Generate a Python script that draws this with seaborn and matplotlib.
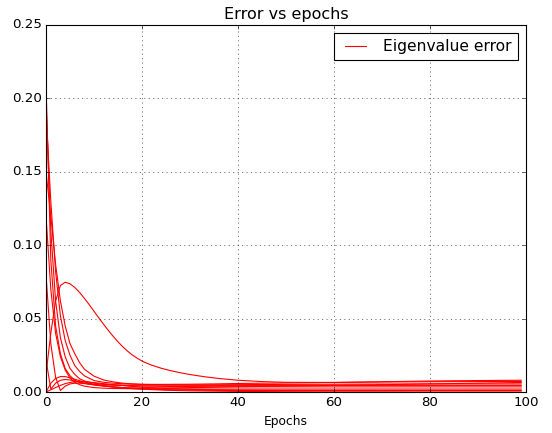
import pandas as pd
import matplotlib
matplotlib.use("Agg")
import matplotlib.pyplot as plt
import seaborn as sns

# ---------------- DATA ----------------
epochs = [0, 1, 2, 3, 4, 5, 6, 7, 8, 10, 12, 14, 16, 18, 20,
          25, 30, 35, 40, 45, 50, 60, 70, 80, 90, 99]

# the slow, humped run is sampled a bit finer
epochs_hump = [0, 1, 2, 3, 4, 5, 6, 7, 8, 9, 10, 11, 12, 13, 14, 15, 16, 17, 18, 19, 20,
               21, 22, 24, 26, 28, 30, 33, 36, 40, 45, 50, 60, 70, 80, 90, 99]
run_hump = [0.012, 0.040, 0.062, 0.0725, 0.0748, 0.0737, 0.0712, 0.0678, 0.0638, 0.0595, 0.0550,
            0.0505, 0.0461, 0.0419, 0.0379, 0.0342, 0.0308, 0.0278, 0.0252, 0.0230, 0.0211,
            0.0196, 0.0183, 0.0162, 0.0145, 0.0131, 0.0119, 0.0104, 0.0092, 0.0080, 0.0071, 0.0066,
            0.0065, 0.007, 0.0075, 0.0078, 0.008]

run_b = [0.21, 0.09, 0.045, 0.026, 0.016, 0.011, 0.008, 0.0065, 0.0058, 0.005, 0.0048, 0.0047, 0.0046,
         0.0046, 0.0046, 0.0047, 0.0048, 0.0049, 0.005, 0.0051, 0.0052, 0.0053, 0.0054, 0.0055, 0.0055, 0.0055]
run_c = [0.20, 0.11, 0.062, 0.037, 0.024, 0.016, 0.012, 0.009, 0.0075, 0.006, 0.0052, 0.0048, 0.0045,
         0.0042, 0.004, 0.0038, 0.0037, 0.0036, 0.0036, 0.0035, 0.0035, 0.0035, 0.0035, 0.0035, 0.0035, 0.0035]
run_d = [0.19, 0.13, 0.082, 0.052, 0.035, 0.025, 0.018, 0.014, 0.011, 0.0078, 0.0066, 0.006, 0.0056,
         0.0054, 0.0052, 0.0052, 0.0053, 0.0055, 0.0058, 0.006, 0.0062, 0.0065, 0.0068, 0.007, 0.0071, 0.0072]
run_e = [0.15, 0.12, 0.087, 0.062, 0.045, 0.033, 0.026, 0.020, 0.0155, 0.0108, 0.0082, 0.0069, 0.006,
         0.0055, 0.0052, 0.0048, 0.0046, 0.0045, 0.0045, 0.0045, 0.0045, 0.0045, 0.0045, 0.0045, 0.0045, 0.0045]
run_f = [0.12, 0.07, 0.04, 0.024, 0.015, 0.0095, 0.0065, 0.005, 0.004, 0.003, 0.0026, 0.0024, 0.0023,
         0.0022, 0.0022, 0.0021, 0.0021, 0.002, 0.002, 0.002, 0.002, 0.002, 0.002, 0.002, 0.002, 0.002]
run_g = [0.08, 0.033, 0.01, 0.001, 0.004, 0.0055, 0.006, 0.006, 0.0058, 0.005, 0.0042, 0.0035, 0.003,
         0.0026, 0.0022, 0.0016, 0.0013, 0.0011, 0.001, 0.001, 0.001, 0.001, 0.001, 0.001, 0.001, 0.001]
run_h = [0.022, 0.002, 0.006, 0.008, 0.0085, 0.0082, 0.0075, 0.0068, 0.006, 0.0048, 0.004, 0.0034, 0.003,
         0.0028, 0.0027, 0.0028, 0.003, 0.0032, 0.0035, 0.0038, 0.004, 0.0045, 0.005, 0.0055, 0.006, 0.0065]
run_i = [0.0, 0.006, 0.0092, 0.0105, 0.0105, 0.0097, 0.0087, 0.0077, 0.0068, 0.0053, 0.0042, 0.0034, 0.0028,
         0.0023, 0.0019, 0.0012, 0.0008, 0.0006, 0.0004, 0.0003, 0.0002, 0.0001, 0.0001, 0.0, 0.0, 0.0]
run_j = [0.0, 0.0015, 0.003, 0.0045, 0.0057, 0.0065, 0.007, 0.0071, 0.007, 0.0064, 0.0057, 0.005, 0.0044,
         0.0038, 0.0033, 0.0024, 0.0018, 0.0015, 0.0013, 0.0012, 0.0011, 0.001, 0.001, 0.001, 0.001, 0.001]

runs = [run_b, run_c, run_d, run_e, run_f, run_g, run_h, run_i, run_j]

# long-form table for seaborn
frames = [pd.DataFrame({"epoch": epochs_hump, "error": run_hump, "run": 0})]
frames += [pd.DataFrame({"epoch": epochs, "error": r, "run": k + 1}) for k, r in enumerate(runs)]
df = pd.concat(frames, ignore_index=True)

# ---------------- PLOT ----------------
plt.style.use("classic")
fig = plt.figure(figsize=(6.9, 5.4125), dpi=80)
ax = fig.add_axes([46 / 552, 1 - 392 / 433, 480 / 552, 367 / 433])

for k in sorted(df["run"].unique()):
    sns.lineplot(
        data=df[df["run"] == k],
        x="epoch",
        y="error",
        color="red",
        linewidth=1.0,
        label="Eigenvalue error" if k == 0 else None,
        ax=ax,
    )

ax.set_xlim(0, 100)
ax.set_ylim(0, 0.25)
ax.grid(True)
ax.set_title("Error vs epochs", fontsize=14.4)
ax.set_xlabel("Epochs", fontsize=11)
ax.set_ylabel("")
ax.legend(loc="upper right", fontsize=14, handlelength=2.0)

fig.savefig("out.png", dpi=80)
